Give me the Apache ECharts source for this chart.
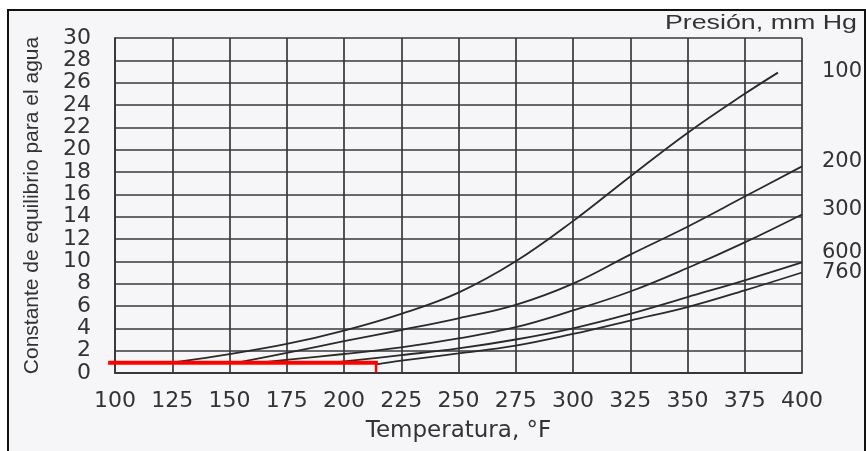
<!DOCTYPE html>
<html>
<head>
<meta charset="utf-8">
<script src="https://cdn.jsdelivr.net/npm/echarts@6/dist/echarts.min.js"></script>
<style>
html,body{margin:0;padding:0;background:#fff;}
#c{width:866px;height:451px;}
</style>
</head>
<body>
<div id="c"></div>
<script>
// ---- data ----
const xTicks = [100,125,150,175,200,225,250,275,300,325,350,375,400];
const yTicks = [0,2,4,6,8,10,12,14,16,18,20,22,24,26,28,30];

const pressures = ['100','200','300','600','760'];

const t100 = [127, 150, 175, 200, 225, 250, 275, 300, 325, 350, 375, 389.5];
const k100 = [1.0, 1.7, 2.6, 3.8, 5.3, 7.2, 10.0, 13.6, 17.6, 21.5, 25.0, 26.9];

const t200 = [155, 175, 200, 225, 250, 275, 300, 325, 350, 375, 400];
const k200 = [1.0, 1.8, 2.85, 3.85, 4.9, 6.1, 8.0, 10.6, 13.1, 15.8, 18.5];

const t300 = [166, 200, 225, 250, 275, 300, 325, 350, 375, 400];
const k300 = [1.0, 1.7, 2.3, 3.1, 4.1, 5.6, 7.3, 9.4, 11.7, 14.2];

const t600 = [196, 225, 250, 275, 300, 325, 350, 375, 400];
const k600 = [0.95, 1.6, 2.2, 3.0, 4.0, 5.3, 6.8, 8.3, 9.9];

const t760 = [213.5, 225, 250, 275, 300, 325, 350, 375, 400];
const k760 = [0.75, 1.1, 1.75, 2.45, 3.5, 4.7, 5.9, 7.4, 9.0];

const redLineT = [97, 214.8];
const redLineK = [0.92, 0.92];
const redTickT = [214, 214];
const redTickK = [0.92, 0.05];

const xName = 'Temperatura, °F';
const yName = 'Constante de equilibrio para el agua';
const legendTitle = 'Presión, mm Hg';

// ---- build ----
const zip = (a, b) => a.map((v, i) => [v, b[i]]);
const curves = [[t100,k100],[t200,k200],[t300,k300],[t600,k600],[t760,k760]];

const textColor = '#333333';
const gridColor = '#383838';

const chart = echarts.init(document.getElementById('c'), null, {renderer: 'canvas'});

const series = curves.map((c, i) => ({
  name: pressures[i],
  type: 'line',
  data: zip(c[0], c[1]),
  smooth: 0.4,
  showSymbol: false,
  lineStyle: {color: '#2a2a2a', width: 1.8},
  silent: true,
  z: 3
}));

// red marker drawn as custom segments (not clipped to the grid)
const redSegments = [
  [redLineT[0], redLineK[0], redLineT[1], redLineK[1], 4],
  [redTickT[0], redTickK[0], redTickT[1], redTickK[1], 2.5]
];
series.push({
  type: 'custom',
  clip: false,
  silent: true,
  z: 5,
  data: redSegments,
  encode: {x: [0, 2], y: [1, 3]},
  renderItem: (params, api) => {
    const p1 = api.coord([api.value(0), api.value(1)]);
    const p2 = api.coord([api.value(2), api.value(3)]);
    return {
      type: 'line',
      shape: {x1: p1[0], y1: p1[1], x2: p2[0], y2: p2[1]},
      style: {stroke: '#ff0000', lineWidth: api.value(4), lineCap: 'butt'}
    };
  }
});

// right-hand pressure labels
const labelY = [72, 162, 210, 253, 273];
const graphics = [
  {type: 'rect', shape: {x: 8, y: 10, width: 857, height: 460}, style: {fill: '#f6f6f9', stroke: '#111', lineWidth: 2}, z: -10, silent: true},
  {type: 'text', x: 857, y: 23, scaleX: 1.34, style: {text: legendTitle, font: '20px "Liberation Sans"', fill: textColor, align: 'right', verticalAlign: 'middle'}, z: 10}
];
pressures.forEach((p, i) => {
  graphics.push({type: 'text', x: 862, y: labelY[i], style: {text: p, font: '21px "DejaVu Sans"', fill: textColor, align: 'right', verticalAlign: 'middle'}, z: 10});
});

chart.setOption({
  backgroundColor: '#ffffff',
  animation: false,
  grid: {left: 115, right: 64, top: 38, bottom: 78, containLabel: false},
  xAxis: {
    type: 'value', min: 100, max: 400, interval: 25,
    name: xName, nameLocation: 'middle', nameGap: 47,
    nameTextStyle: {fontFamily: 'DejaVu Sans', fontSize: 23, color: textColor},
    axisLine: {show: true, lineStyle: {color: gridColor, width: 1.8}},
    axisTick: {show: false},
    axisLabel: {fontFamily: 'DejaVu Sans', fontSize: 22, color: textColor, margin: 17,
      formatter: v => xTicks.includes(v) ? String(v) : ''},
    splitLine: {show: true, lineStyle: {color: gridColor, width: 1.7}}
  },
  yAxis: {
    type: 'value', min: 0, max: 30, interval: 2,
    name: yName, nameLocation: 'middle', nameGap: 72,
    nameTextStyle: {fontFamily: 'Liberation Sans', fontSize: 21, color: textColor},
    axisLine: {show: true, lineStyle: {color: gridColor, width: 1.8}},
    axisTick: {show: false},
    axisLabel: {fontFamily: 'DejaVu Sans', fontSize: 22, color: textColor, margin: 24,
      formatter: v => yTicks.includes(v) ? String(v) : ''},
    splitLine: {show: true, lineStyle: {color: gridColor, width: 1.7}}
  },
  graphic: graphics,
  series: series
});
</script>
</body>
</html>
